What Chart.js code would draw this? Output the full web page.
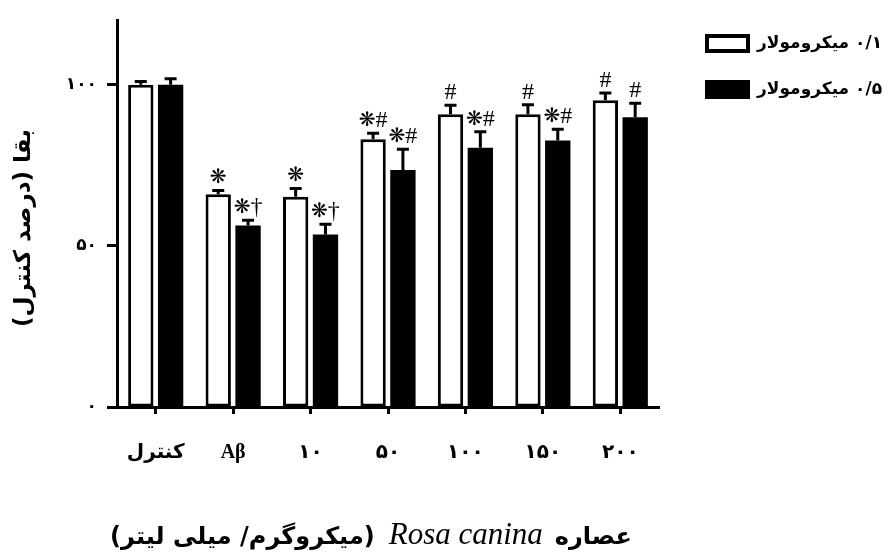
<!DOCTYPE html>
<html><head><meta charset="utf-8">
<script src="https://cdn.jsdelivr.net/npm/chart.js@4.4.1/dist/chart.umd.min.js"></script>
<style>html,body{margin:0;padding:0;background:#fff}#wrap{width:888px;height:559px}</style>
</head><body><div id="wrap"><canvas id="c" width="888" height="559"></canvas></div>
<script>
const categories = ['کنترل', 'Aβ', '۱۰', '۵۰', '۱۰۰', '۱۵۰', '۲۰۰'];
const seriesNames = ['۰/۱ میکرومولار', '۰/۵ میکرومولار'];
const values01 = [100, 66.0, 65.2, 83.1, 90.8, 90.8, 95.2];
const values05 = [100, 56.3, 53.5, 73.5, 80.4, 82.7, 89.9];
const errors01 = [1.0, 1.2, 2.6, 1.8, 2.8, 3.0, 2.2];
const errors05 = [1.8, 1.6, 3.2, 6.5, 5.0, 3.5, 4.3];
const marks01 = ['', '❋', '❋', '❋#', '#', '#', '#'];
const marks05 = ['', '❋†', '❋†', '❋#', '❋#', '❋#', '#'];
const yTickValues = [0, 50, 100];
const yTickLabels = ['۰', '۵۰', '۱۰۰'];
const yTitle = 'بقا (درصد کنترل)';
const xTitleParts = ['عصاره', 'Rosa canina', '(میکروگرم/ میلی لیتر)'];

const FONT = '"Liberation Serif", "DejaVu Sans", serif';
const PFONT = '"DejaVu Sans", "Liberation Serif", sans-serif';

function markFont(ch) {
  return ch === '❋' ? '20px "DejaVu Sans", sans-serif' : '24px ' + FONT;
}

const errorBarsPlugin = {
  id: 'errorBars',
  afterDatasetsDraw(chart) {
    const { ctx, scales: { y } } = chart;
    chart.data.datasets.forEach((ds, di) => {
      const meta = chart.getDatasetMeta(di);
      meta.data.forEach((bar, i) => {
        const v = ds.data[i], e = ds.errors[i];
        const yTop = y.getPixelForValue(v + e);
        ctx.save();
        ctx.strokeStyle = '#000';
        ctx.lineWidth = 3;
        ctx.beginPath();
        ctx.moveTo(bar.x, bar.y);
        ctx.lineTo(bar.x, yTop);
        ctx.moveTo(bar.x - 6, yTop);
        ctx.lineTo(bar.x + 6, yTop);
        ctx.stroke();
        const chars = Array.from(ds.marks[i] || '');
        if (chars.length) {
          ctx.fillStyle = '#000';
          ctx.textAlign = 'left';
          ctx.textBaseline = 'alphabetic';
          const widths = chars.map(ch => { ctx.font = markFont(ch); return ctx.measureText(ch).width; });
          const total = widths.reduce((a, b) => a + b, 0);
          let x = bar.x - total / 2;
          const base = yTop - 6;
          chars.forEach((ch, k) => {
            ctx.font = markFont(ch);
            ctx.fillText(ch, x, ch === '❋' ? base - 1 : base);
            x += widths[k];
          });
        }
        ctx.restore();
      });
    });
  }
};

const decorPlugin = {
  id: 'decor',
  afterDraw(chart) {
    const { ctx, chartArea: ca } = chart;
    ctx.save();
    // legend
    const ds = chart.data.datasets;
    const lx = ca.right + 46;
    [[34, 0], [80, 1]].forEach(([ty, k]) => {
      const d = ds[k];
      if (k === 0) {
        ctx.fillStyle = '#fff';
        ctx.fillRect(lx, ty, 45, 19);
        ctx.strokeStyle = '#000';
        ctx.lineWidth = 4;
        ctx.strokeRect(lx + 2, ty + 2, 41, 15);
      } else {
        ctx.fillStyle = '#000';
        ctx.fillRect(lx, ty, 45, 19);
      }
      ctx.fillStyle = '#000';
      ctx.font = 'bold 17px ' + PFONT;
      ctx.direction = 'rtl';
      ctx.textAlign = 'left';
      ctx.textBaseline = 'middle';
      ctx.fillText(d.label, lx + 52, ty + 10);
    });
    // y title
    ctx.save();
    ctx.fillStyle = '#000';
    ctx.translate(24, 228);
    ctx.rotate(-Math.PI / 2);
    ctx.direction = 'rtl';
    ctx.textAlign = 'center';
    ctx.textBaseline = 'middle';
    ctx.font = 'bold 23px ' + PFONT;
    ctx.fillText(yTitle, 0, 0);
    ctx.restore();
    // x title, right to left
    ctx.fillStyle = '#000';
    const fB = 'bold 24px ' + PFONT;
    const fI = 'italic 31px ' + FONT;
    ctx.font = fB; const w1 = ctx.measureText(xTitleParts[0]).width;
    ctx.font = fI; const w2 = ctx.measureText(xTitleParts[1]).width;
    ctx.font = fB; const w3 = ctx.measureText(xTitleParts[2]).width;
    const gap1 = 12, gap2 = 14;
    const total = w1 + w2 + w3 + gap1 + gap2;
    const cx = ca.left + 254;
    let rx = cx + total / 2;
    const by = 544;
    ctx.textBaseline = 'alphabetic';
    ctx.textAlign = 'right';
    ctx.direction = 'rtl';
    ctx.font = fB; ctx.fillText(xTitleParts[0], rx, by);
    rx -= w1 + gap1;
    ctx.direction = 'ltr';
    ctx.font = fI; ctx.fillText(xTitleParts[1], rx, by);
    rx -= w2 + gap2;
    ctx.direction = 'rtl';
    ctx.font = fB; ctx.fillText(xTitleParts[2], rx, by);
    ctx.restore();
  }
};

new Chart(document.getElementById('c').getContext('2d'), {
  type: 'bar',
  data: {
    labels: categories,
    datasets: [
      { label: seriesNames[0], data: values01, backgroundColor: '#fff', borderColor: '#000', borderWidth: 3, borderSkipped: false, errors: errors01, marks: marks01 },
      { label: seriesNames[1], data: values05, backgroundColor: '#000', borderColor: '#000', borderWidth: 0, errors: errors05, marks: marks05 }
    ]
  },
  options: {
    responsive: false,
    animation: false,
    layout: { autoPadding: false, padding: { top: 15, right: 229, bottom: 0, left: 0 } },
    categoryPercentage: 0.77,
    barPercentage: 0.85,
    plugins: { legend: { display: false }, tooltip: { enabled: false } },
    scales: {
      x: {
        grid: { display: true, drawOnChartArea: false, offset: false, tickLength: 7, tickWidth: 3, tickColor: '#000' },
        border: { display: true, color: '#000', width: 3 },
        ticks: { padding: 27, color: '#000', font: { family: FONT, size: 20, weight: 'bold' }, maxRotation: 0 },
        afterFit(s) { s.height = 152; }
      },
      y: {
        min: 0, max: 120,
        grid: { display: true, drawOnChartArea: false, tickLength: 10, tickWidth: 3, tickColor: '#000' },
        border: { display: true, color: '#000', width: 3 },
        ticks: { padding: 10, color: '#000', font: { family: PFONT, size: 17, weight: 'bold' },
          callback: (v) => yTickLabels[yTickValues.indexOf(v)] },
        afterBuildTicks(s) { s.ticks = yTickValues.map(v => ({ value: v })); },
        afterFit(s) { s.width = 117; }
      }
    }
  },
  plugins: [errorBarsPlugin, decorPlugin]
});
</script>
</body></html>
